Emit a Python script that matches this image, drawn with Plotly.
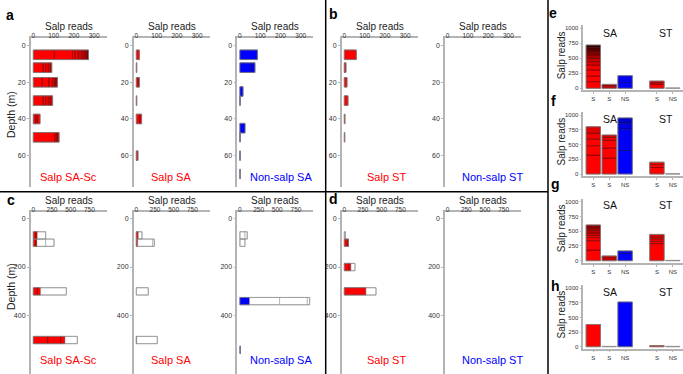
import plotly.graph_objects as go

W, H = 683, 374

# ---------------- data ----------------
# panel a / b : 0-70 m, salp reads per depth, stacked by sample
a_sasc_depth = [5, 12, 20, 30, 40, 50]
a_sasc_reads = [[104, 89, 13, 16, 17, 13, 12, 8], [49, 12, 13, 10, 7], [44, 33, 17, 10, 8, 7],
                [49, 12, 13, 10, 11], [13, 8, 12], [107, 8, 5, 7]]
a_sa_depth = [5, 12, 20, 30, 40, 60]
a_sa_reads = [[15], [2], [10, 5], [2], [18, 8], [8]]
a_ns_depth = [5, 12, 25, 30, 45, 50, 60, 70]
a_ns_reads = [[86], [58, 16], [15], [1], [25], [1], [1], [1]]
b_st_depth = [5, 12, 20, 30, 40, 50]
b_st_reads = [[59], [8], [13], [18], [3], [2]]
b_nsst_depth = []
b_nsst_reads = []

# panel c / d : 0-600 m ; first n segments assigned (coloured), rest unassigned (white)
c_sasc_depth = [70, 100, 300, 500]
c_sasc_reads = [[36, 18, 111], [36, 13, 116, 112], [54, 44, 344], [192, 174, 58, 165]]
c_sasc_assigned = [2, 2, 2, 3]
c_sa_depth = [70, 100, 300, 500]
c_sa_reads = [[27, 49], [20, 200, 21], [160], [5, 276]]
c_sa_assigned = [1, 1, 0, 1]
c_ns_depth = [70, 100, 340, 540]
c_ns_reads = [[68, 30], [67], [129, 402, 371, 31], [8]]
c_ns_assigned = [0, 0, 1, 1]
d_st_depth = [70, 100, 200, 300]
d_st_reads = [[15], [45, 10], [60, 29, 54], [290, 134]]
d_st_assigned = [0, 2, 2, 1]
d_nsst_depth = []
d_nsst_reads = []

# panels e-h : total salp reads, groups SA / ST
eh_labels = ["S", "S", "NS", "S", "NS"]
eh_kind = ["salp", "salp", "nonsalp", "salp", "nonsalp"]
e_reads = [[111, 94, 101, 83, 55, 56, 56, 38, 45, 39, 42], [25, 20, 20], [100, 110], [70, 25, 25], [5]]
e_assigned = [11, 3, 2, 3, 0]
f_reads = [[320, 160, 110, 100, 110], [270, 170, 130, 50, 40], [400, 360, 100, 90], [110, 55, 35], [5]]
f_assigned = [5, 5, 4, 3, 0]
g_reads = [[180, 160, 50, 40, 40, 40, 40, 55], [30, 25, 25], [120, 45], [290, 40, 40, 35, 40], [5]]
g_assigned = [8, 3, 2, 5, 0]
h_reads = [[380], [5], [765], [20], [5]]
h_assigned = [1, 0, 1, 1, 0]

# ---------------- styles ----------------
RED_PAL = ['#FF0000', '#FF0000', '#FF0000', '#F20000', '#DD0000', '#C40000', '#A80000',
           '#880000', '#660000', '#440000', '#220000', '#100000']
BLUE_PAL = ['#0000FF', '#0000F4', '#0000E0', '#0000C8', '#0000B0', '#000098']
RED_LINE = '#5c0000'
BLUE_LINE = '#00005c'
WHITE_LINE = '#9a9a9a'
AXIS_COL = '#b4b4b4'
TICK_FONT = dict(size=6.5, color='#333333')
FONT = 'Liberation Sans, Arial, sans-serif'

fig = go.Figure()
layout = {}
annotations = []


def xdom(x0, x1):
    return [x0 / W, x1 / W]


def ydom(top, bottom):
    return [max(0, 1 - bottom / H), min(1, 1 - top / H)]


def add_stacks(idx, pos, stacks, assigned, pals, lines, horizontal, width):
    ax = '' if idx == 1 else str(idx)
    # invisible anchor trace so that empty panels still draw their axes
    fig.add_trace(go.Scatter(x=[0], y=[0], mode='none', xaxis='x' + ax, yaxis='y' + ax,
                             hoverinfo='skip', showlegend=False))
    if assigned is None:
        assigned = [len(s) for s in stacks]
    nmax = max((len(s) for s in stacks), default=0)
    for k in range(nmax):
        p, v, b, fc, lc = [], [], [], [], []
        for i, s in enumerate(stacks):
            if k < len(s):
                p.append(pos[i])
                v.append(s[k])
                b.append(sum(s[:k]))
                col = k < assigned[i]
                pal = pals[i]
                fc.append(pal[min(k, len(pal) - 1)] if col else 'white')
                lc.append(lines[i] if col else WHITE_LINE)
        common = dict(base=b, width=width, xaxis='x' + ax, yaxis='y' + ax,
                      marker=dict(color=fc, line=dict(color=lc, width=0.6)),
                      hoverinfo='skip', showlegend=False)
        if horizontal:
            fig.add_trace(go.Bar(x=v, y=p, orientation='h', **common))
        else:
            fig.add_trace(go.Bar(x=p, y=v, orientation='v', **common))
    if stacks:
        totals = [sum(s) for s in stacks]
        common = dict(width=width, xaxis='x' + ax, yaxis='y' + ax,
                      marker=dict(color='rgba(0,0,0,0)', line=dict(color='#8c8c8c', width=0.7)),
                      hoverinfo='skip', showlegend=False)
        if horizontal:
            fig.add_trace(go.Bar(x=totals, y=pos, orientation='h', **common))
        else:
            fig.add_trace(go.Bar(x=pos, y=totals, orientation='v', **common))


def set_axes(idx, xd, yd, xr, yr, xtv, ytv, xside, xticks, yticks, xfont, yfont, xtt=None, xstand=0):
    ax = '' if idx == 1 else str(idx)
    layout['xaxis' + ax] = dict(domain=xd, range=xr, anchor='y' + ax, side=xside,
                                showline=True, linecolor=AXIS_COL, linewidth=1.5,
                                showgrid=False, zeroline=False, tickvals=xtv,
                                ticktext=xtt, ticks=xticks, ticklen=2, tickcolor=AXIS_COL,
                                tickfont=xfont, fixedrange=True, ticklabelstandoff=xstand)
    layout['yaxis' + ax] = dict(domain=yd, range=yr, anchor='x' + ax,
                                showline=True, linecolor=AXIS_COL, linewidth=1.5,
                                showgrid=False, zeroline=False, tickvals=ytv,
                                ticks=yticks, ticklen=2, tickcolor=AXIS_COL,
                                tickfont=yfont, fixedrange=True)


# ---------------- panels a-d ----------------
col_x0 = [30.7, 133.7, 237.3, 341.7, 445.0]
PW = 76
title_cx = [68, 171, 281, 386.5, 492]
titles = ['Salp SA-Sc', 'Salp SA', 'Non-salp SA', 'Salp ST', 'Non-salp ST']
title_col = ['#FF0000', '#FF0000', '#0000FF', '#FF0000', '#0000FF']

top_sets = [(a_sasc_depth, a_sasc_reads, None, 'salp'),
            (a_sa_depth, a_sa_reads, None, 'salp'),
            (a_ns_depth, a_ns_reads, None, 'nonsalp'),
            (b_st_depth, b_st_reads, None, 'salp'),
            (b_nsst_depth, b_nsst_reads, None, 'nonsalp')]
bot_sets = [(c_sasc_depth, c_sasc_reads, c_sasc_assigned, 'salp'),
            (c_sa_depth, c_sa_reads, c_sa_assigned, 'salp'),
            (c_ns_depth, c_ns_reads, c_ns_assigned, 'nonsalp'),
            (d_st_depth, d_st_reads, d_st_assigned, 'salp'),
            (d_nsst_depth, d_nsst_reads, None, 'nonsalp')]

idx = 1
for row, sets in enumerate([top_sets, bot_sets]):
    for j, (dep, reads, asg, kind) in enumerate(sets):
        pal = RED_PAL if kind == 'salp' else BLUE_PAL
        ln = RED_LINE if kind == 'salp' else BLUE_LINE
        if row == 0:
            add_stacks(idx, dep, reads, asg, [pal] * len(reads), [ln] * len(reads), True, 5.2)
            set_axes(idx, xdom(col_x0[j], col_x0[j] + PW), ydom(38.3, 187),
                     [-13, 362], [77.1, -4], [0, 100, 200, 300], [0, 20, 40, 60],
                     'top', '', 'outside', TICK_FONT, dict(size=7, color='#333333'), xstand=-4)
            ty_title, ty_lab = 26, 177
        else:
            add_stacks(idx, dep, reads, asg, [pal] * len(reads), [ln] * len(reads), True, 30)
            set_axes(idx, xdom(col_x0[j], col_x0[j] + PW), ydom(212.3, 374),
                     [-35, 982], [639.6, -25], [0, 250, 500, 750], [0, 200, 400],
                     'top', '', 'outside', TICK_FONT, dict(size=7, color='#333333'), xstand=-4)
            ty_title, ty_lab = 200, 360
        annotations.append(dict(text='Salp reads', x=(col_x0[j] + 38) / W, y=1 - ty_title / H,
                                xref='paper', yref='paper', showarrow=False,
                                font=dict(size=10, color='#222222'), xanchor='center', yanchor='middle'))
        annotations.append(dict(text=titles[j], x=title_cx[j] / W, y=1 - ty_lab / H,
                                xref='paper', yref='paper', showarrow=False,
                                font=dict(size=11, color=title_col[j]), xanchor='center', yanchor='middle'))
        if j == 0:
            annotations.append(dict(text='Depth (m)', x=11 / W, y=1 - (115 if row == 0 else 287) / H,
                                    xref='paper', yref='paper', showarrow=False, textangle=-90,
                                    font=dict(size=10.5, color='#222222'), xanchor='center', yanchor='middle'))
        idx += 1

# ---------------- panels e-h ----------------
eh_pos = [0, 1, 2, 4, 5]
zero_px = [88.3, 174.0, 260.7, 346.7]
thou_px = [28.3, 115.0, 201.7, 288.3]
eh_data = [(e_reads, e_assigned), (f_reads, f_assigned), (g_reads, g_assigned), (h_reads, h_assigned)]
for p, (reads, asg) in enumerate(eh_data):
    s = (zero_px[p] - thou_px[p]) / 1000
    bottom = zero_px[p] + 35 * s
    top = zero_px[p] - 1050 * s
    pals = [RED_PAL if k == 'salp' else BLUE_PAL for k in eh_kind]
    lns = [RED_LINE if k == 'salp' else BLUE_LINE for k in eh_kind]
    add_stacks(idx, eh_pos, reads, asg, pals, lns, False, 0.9)
    set_axes(idx, xdom(583.3, 683), ydom(top, bottom), [-0.63, 5.64], [-35, 1050],
             eh_pos, [0, 250, 500, 750, 1000], 'bottom', 'outside', 'outside',
             dict(size=6, color='#333333'), dict(size=6, color='#333333'), xtt=eh_labels)
    ytop = thou_px[p] + (5 if p == 0 else 3.5)
    annotations.append(dict(text='SA', x=610 / W, y=1 - ytop / H, xref='paper', yref='paper',
                            showarrow=False, font=dict(size=10.5, color='#111111'),
                            xanchor='center', yanchor='middle'))
    annotations.append(dict(text='ST', x=666 / W, y=1 - ytop / H, xref='paper', yref='paper',
                            showarrow=False, font=dict(size=10.5, color='#111111'),
                            xanchor='center', yanchor='middle'))
    annotations.append(dict(text='Salp reads', x=561 / W, y=1 - (zero_px[p] + thou_px[p] - 6) / 2 / H,
                            xref='paper', yref='paper', showarrow=False, textangle=-90,
                            font=dict(size=10, color='#222222'), xanchor='center', yanchor='middle'))
    idx += 1

# panel letters
for t, x, y in [('a', 10, 15), ('b', 333, 14), ('c', 10.5, 200), ('d', 333, 199),
                ('e', 553, 13), ('f', 553, 101), ('g', 555, 184), ('h', 555, 286)]:
    annotations.append(dict(text='<b>' + t + '</b>', x=x / W, y=1 - y / H, xref='paper', yref='paper',
                            showarrow=False, font=dict(size=14, color='black'),
                            xanchor='center', yanchor='middle'))

shapes = [
    dict(type='line', xref='paper', yref='paper', x0=325.7 / W, x1=325.7 / W, y0=0, y1=1,
         line=dict(color='black', width=1.5)),
    dict(type='line', xref='paper', yref='paper', x0=548 / W, x1=548 / W, y0=0, y1=1,
         line=dict(color='black', width=1.5)),
    dict(type='line', xref='paper', yref='paper', x0=0, x1=548 / W, y0=1 - 191.7 / H, y1=1 - 191.7 / H,
         line=dict(color='black', width=1.5)),
]

fig.update_layout(**layout)
fig.update_layout(width=W, height=H, margin=dict(l=0, r=0, t=0, b=0),
                  paper_bgcolor='white', plot_bgcolor='white', barmode='overlay',
                  font=dict(family=FONT), annotations=annotations, shapes=shapes,
                  showlegend=False)
fig.write_html('out.html', config={'displayModeBar': False},
               post_script="document.body.style.margin='0px';document.body.style.padding='0px';")
